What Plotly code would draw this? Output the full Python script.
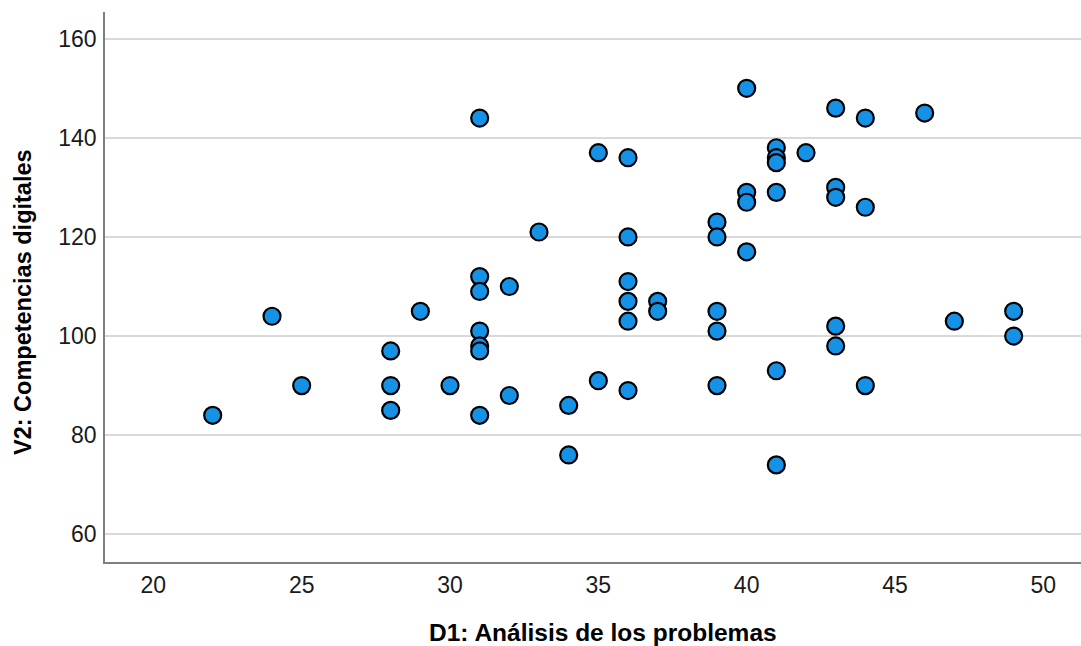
import plotly.graph_objects as go

# D1: Análisis de los problemas
d1 = [22, 24, 25,
      28, 28, 28,
      29, 30,
      31, 31, 31, 31, 31, 31, 31,
      32, 32, 33, 34, 34, 35, 35,
      36, 36, 36, 36, 36, 36,
      37, 37,
      39, 39, 39, 39, 39,
      40, 40, 40, 40,
      41, 41, 41, 41, 41, 41,
      42,
      43, 43, 43, 43, 43,
      44, 44, 44,
      46, 47, 49, 49]
# V2: Competencias digitales
v2 = [84, 104, 90,
      97, 90, 85,
      105, 90,
      144, 112, 109, 101, 98, 97, 84,
      110, 88, 121, 86, 76, 137, 91,
      136, 120, 111, 107, 103, 89,
      107, 105,
      123, 120, 105, 101, 90,
      150, 129, 127, 117,
      138, 136, 135, 129, 93, 74,
      137,
      146, 130, 128, 102, 98,
      144, 126, 90,
      145, 103, 105, 100]

x_ticks = [20, 25, 30, 35, 40, 45, 50]
y_ticks = [60, 80, 100, 120, 140, 160]
x_title = "D1: Análisis de los problemas"
y_title = "V2: Competencias digitales"

fig = go.Figure()
fig.add_trace(go.Scatter(
    x=d1, y=v2, mode="markers",
    marker=dict(size=17, color="#1592E6", line=dict(color="#000000", width=2.2)),
    showlegend=False,
))

font_family = "Liberation Sans, Arial, sans-serif"
fig.update_layout(
    width=1081, height=646,
    margin=dict(l=105, r=0, t=12, b=84),
    paper_bgcolor="white", plot_bgcolor="white",
    font=dict(family=font_family, size=23, color="#1a1a1a"),
    xaxis=dict(
        range=[18.37, 51.27], tickvals=x_ticks, showgrid=False, zeroline=False,
        showline=True, linecolor="#7f7f7f", linewidth=1.5, ticks="",
        tickfont=dict(size=23, color="#1a1a1a"),
        ticklabelstandoff=2, automargin=False,
    ),
    yaxis=dict(
        range=[54.4, 165.4], tickvals=y_ticks, showgrid=True, gridcolor="#d9d9d9", gridwidth=1.5,
        zeroline=False, showline=True, linecolor="#7f7f7f", linewidth=1.5, ticks="",
        tickfont=dict(size=23, color="#1a1a1a"),
        ticklabelstandoff=2, automargin=False,
    ),
    annotations=[
        dict(text="<b>" + x_title + "</b>", xref="paper", yref="paper",
             x=0.5102, y=0, yshift=-70, xanchor="center", yanchor="middle",
             showarrow=False, font=dict(size=24.5, color="#000")),
        dict(text="<b>" + y_title + "</b>", xref="paper", yref="paper",
             x=0, xshift=-82, y=0.4727, xanchor="center", yanchor="middle",
             textangle=-90, showarrow=False, font=dict(size=23.5, color="#000")),
    ],
)
fig.write_html("out.html", config={"displayModeBar": False},
               post_script="document.body.style.margin='0';")
